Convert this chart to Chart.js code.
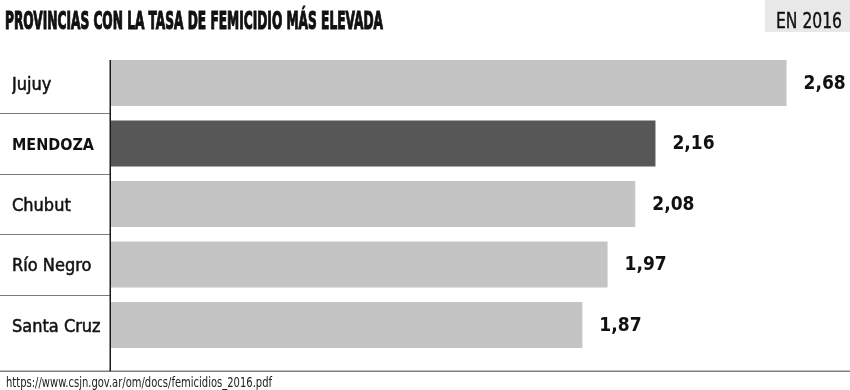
<!DOCTYPE html>
<html>
<head>
<meta charset="utf-8">
<script src="https://cdn.jsdelivr.net/npm/chart.js@4.4.1/dist/chart.umd.min.js"></script>
<style>
  html, body { margin: 0; padding: 0; background: #fff; }
  #wrap { position: relative; width: 850px; height: 390px; overflow: hidden; background: #fff; }
  #chart { position: absolute; left: 0; top: 0; }
  .fit { position: absolute; white-space: nowrap; transform-origin: 0 0; color: #111; line-height: 1; }
  #title { left: 5px; top: 7px; font: bold 24px 'Liberation Sans Narrow', 'DejaVu Sans Condensed', sans-serif; -webkit-text-stroke: 1.1px #111; }
  #badge { position: absolute; left: 765px; top: 0; width: 85px; height: 32px; background: #e8e8e8; }
  #badgeText { left: 776px; top: 9px; font: 21px 'Liberation Sans Narrow', 'DejaVu Sans Condensed', sans-serif; -webkit-text-stroke: 0.4px #111; }
  #source { left: 6px; top: 374px; font: 14px 'Liberation Sans Narrow', 'DejaVu Sans Condensed', sans-serif; color: #222; }
</style>
</head>
<body>
<div id="wrap">
  <canvas id="chart" width="850" height="390"></canvas>
  <div id="title" class="fit">PROVINCIAS CON LA TASA DE FEMICIDIO MÁS ELEVADA</div>
  <div id="badge"></div>
  <div id="badgeText" class="fit">EN 2016</div>
  <div id="source" class="fit">https://www.csjn.gov.ar/om/docs/femicidios_2016.pdf</div>
</div>
<script>
// ---- data ----
const categories = ['Jujuy', 'MENDOZA', 'Chubut', 'Río Negro', 'Santa Cruz'];
const rates = [2.68, 2.16, 2.08, 1.97, 1.87];
const highlighted = 'MENDOZA';

// ---- fit HTML texts to reference widths ----
function fitWidth(id, w) {
  const el = document.getElementById(id);
  const cur = el.getBoundingClientRect().width;
  if (cur > 0) el.style.transform = 'scaleX(' + (w / cur) + ')';
}
fitWidth('title', 378);
fitWidth('badgeText', 66);
fitWidth('source', 266);

const fmt = v => v.toFixed(2).replace('.', ',');

const framePlugin = {
  id: 'frame',
  afterDraw(chart) {
    const { ctx, chartArea } = chart;
    const y = chart.scales.y;
    const meta = chart.getDatasetMeta(0);
    ctx.save();
    // separators in label column
    ctx.strokeStyle = '#7a7a7a';
    ctx.lineWidth = 1;
    for (let i = 0; i < categories.length - 1; i++) {
      const yy = Math.round((y.getPixelForValue(i) + y.getPixelForValue(i + 1)) / 2) + 0.5;
      ctx.beginPath(); ctx.moveTo(0, yy); ctx.lineTo(chartArea.left, yy); ctx.stroke();
    }
    // bottom rule
    const bottomY = chartArea.bottom + 16;
    ctx.strokeStyle = '#808080';
    ctx.lineWidth = 1.5;
    ctx.beginPath(); ctx.moveTo(0, bottomY); ctx.lineTo(chart.width, bottomY); ctx.stroke();
    // vertical axis line
    const first = meta.data[0];
    const topY = first.y - first.height / 2;
    ctx.strokeStyle = '#1a1a1a';
    ctx.lineWidth = 1.5;
    ctx.beginPath(); ctx.moveTo(chartArea.left - 0.75, topY); ctx.lineTo(chartArea.left - 0.75, bottomY); ctx.stroke();
    ctx.restore();
  },
  afterDatasetsDraw(chart) {
    const { ctx } = chart;
    const meta = chart.getDatasetMeta(0);
    ctx.save();
    ctx.font = "bold 19px 'DejaVu Sans Condensed', 'DejaVu Sans', sans-serif";
    ctx.fillStyle = '#111';
    ctx.textAlign = 'left';
    ctx.textBaseline = 'middle';
    meta.data.forEach((bar, i) => {
      ctx.fillText(fmt(rates[i]), bar.x + 17, bar.y + 1);
    });
    ctx.restore();
  }
};

new Chart(document.getElementById('chart'), {
  type: 'bar',
  data: {
    labels: categories,
    datasets: [{
      data: rates,
      backgroundColor: categories.map(c => c === highlighted ? '#575757' : '#c4c4c4'),
      borderWidth: 0,
      categoryPercentage: 1,
      barPercentage: 0.76
    }]
  },
  options: {
    indexAxis: 'y',
    responsive: false,
    animation: false,
    devicePixelRatio: 1,
    layout: { padding: { left: 12, right: 8, top: 52.75, bottom: 34.75 } },
    plugins: { legend: { display: false }, tooltip: { enabled: false }, title: { display: false } },
    scales: {
      x: { display: false, min: 0, max: 2.9 },
      y: {
        grid: { display: false },
        border: { display: false },
        afterFit(s) { s.width = 99; },
        ticks: {
          crossAlign: 'far',
          padding: 0,
          labelOffset: 2,
          color: '#111',
          textStrokeColor: '#111',
          textStrokeWidth: (ctx) => categories[ctx.index] === highlighted ? 0 : 0.5,
          font: (ctx) => categories[ctx.index] === highlighted
            ? { family: "'DejaVu Sans Condensed', 'DejaVu Sans', sans-serif", weight: 'bold', size: 16 }
            : { family: "'DejaVu Sans Condensed', 'DejaVu Sans', sans-serif", weight: 'normal', size: 18 }
        }
      }
    }
  },
  plugins: [framePlugin]
});
</script>
</body>
</html>
